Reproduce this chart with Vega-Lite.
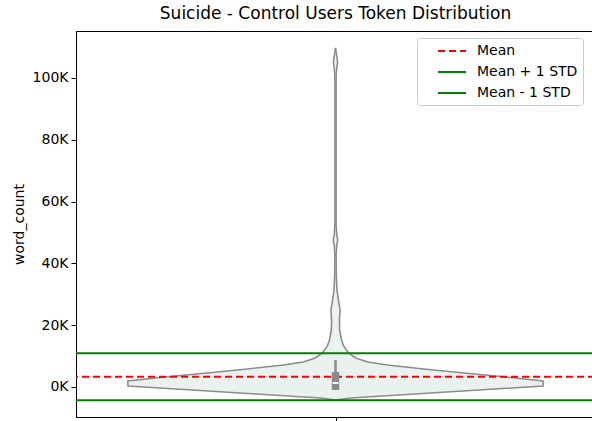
{
  "$schema": "https://vega.github.io/schema/vega-lite/v6.json",
  "autosize": "none",
  "padding": {"left": 76, "top": 31, "right": 0, "bottom": 4},
  "width": 519,
  "height": 386,
  "config": {
    "font": "DejaVu Sans",
    "view": {"stroke": "black", "strokeWidth": 1},
    "axis": {"labelFont": "DejaVu Sans", "titleFont": "DejaVu Sans", "labelFontSize": 14, "titleFontSize": 14, "titleFontWeight": "normal", "labelColor": "black", "titleColor": "black", "domainColor": "black", "tickColor": "black", "grid": false}
  },
  "title": {"text": "Suicide - Control Users Token Distribution", "fontSize": 17, "fontWeight": "normal", "font": "DejaVu Sans", "color": "black", "anchor": "middle", "offset": 8},
  "datasets": {
    "violin": [
      {"word_count": -4207, "density": 0},
      {"word_count": -4045, "density": 0.019},
      {"word_count": -3560, "density": 0.072},
      {"word_count": -3236, "density": 0.15},
      {"word_count": -2265, "density": 0.382},
      {"word_count": -971, "density": 0.691},
      {"word_count": 324, "density": 1.0},
      {"word_count": 1942, "density": 1.0},
      {"word_count": 3236, "density": 0.821},
      {"word_count": 4531, "density": 0.618},
      {"word_count": 5825, "density": 0.425},
      {"word_count": 7120, "density": 0.251},
      {"word_count": 8091, "density": 0.155},
      {"word_count": 9385, "density": 0.097},
      {"word_count": 11003, "density": 0.063},
      {"word_count": 13270, "density": 0.039},
      {"word_count": 15210, "density": 0.029},
      {"word_count": 18450, "density": 0.02},
      {"word_count": 21680, "density": 0.019},
      {"word_count": 24920, "density": 0.022},
      {"word_count": 28160, "density": 0.014},
      {"word_count": 31390, "density": 0.007},
      {"word_count": 36250, "density": 0.004},
      {"word_count": 42720, "density": 0.003},
      {"word_count": 45950, "density": 0.006},
      {"word_count": 47570, "density": 0.011},
      {"word_count": 49190, "density": 0.006},
      {"word_count": 52430, "density": 0.003},
      {"word_count": 60520, "density": 0.003},
      {"word_count": 76700, "density": 0.003},
      {"word_count": 92880, "density": 0.003},
      {"word_count": 100970, "density": 0.003},
      {"word_count": 103200, "density": 0.006},
      {"word_count": 105180, "density": 0.01},
      {"word_count": 107100, "density": 0.006},
      {"word_count": 108410, "density": 0.003},
      {"word_count": 109710, "density": 0}
    ],
    "stats": [
      {"label": "Mean", "value": 3330},
      {"label": "Mean + 1 STD", "value": 10930},
      {"label": "Mean - 1 STD", "value": -4270}
    ],
    "box": [
      {"whisker_lo": -1000, "whisker_hi": 8700, "q1": -950, "q3": 4850, "median": 1300}
    ]
  },
  "layer": [
    {
      "data": {"name": "violin"},
      "mark": {"type": "area", "orient": "horizontal", "color": "#eaf2ef"},
      "encoding": {
        "y": {"field": "word_count", "type": "quantitative", "scale": {"domain": [-9710, 115210], "nice": false, "zero": false},
          "axis": {"values": [0, 20000, 40000, 60000, 80000, 100000], "labelExpr": "datum.value / 1000 + 'K'", "title": "word_count", "tickSize": 5, "labelPadding": 3, "titlePadding": 6}},
        "x": {"field": "density", "type": "quantitative", "scale": {"domain": [-1.25, 1.25], "nice": false, "zero": false},
          "axis": {"values": [0], "labels": false, "title": null, "tickSize": 5}}
      }
    },
    {
      "data": {"name": "violin"},
      "mark": {"type": "area", "orient": "horizontal", "color": "#eaf2ef"},
      "encoding": {
        "y": {"field": "word_count", "type": "quantitative"},
        "x": {"field": "density", "type": "quantitative", "scale": {"domain": [-1.25, 1.25], "nice": false, "zero": false, "reverse": true}, "axis": null}
      }
    },
    {
      "data": {"name": "violin"},
      "mark": {"type": "line", "color": "#8c8c8c", "strokeWidth": 1.6},
      "encoding": {
        "y": {"field": "word_count", "type": "quantitative"},
        "x": {"field": "density", "type": "quantitative", "scale": {"domain": [-1.25, 1.25], "nice": false, "zero": false}, "axis": null},
        "order": {"field": "word_count", "type": "quantitative"}
      }
    },
    {
      "data": {"name": "violin"},
      "mark": {"type": "line", "color": "#8c8c8c", "strokeWidth": 1.6},
      "encoding": {
        "y": {"field": "word_count", "type": "quantitative"},
        "x": {"field": "density", "type": "quantitative", "scale": {"domain": [-1.25, 1.25], "nice": false, "zero": false, "reverse": true}, "axis": null},
        "order": {"field": "word_count", "type": "quantitative"}
      }
    },
    {
      "data": {"name": "stats"},
      "mark": {"type": "rule", "strokeWidth": 2},
      "encoding": {
        "y": {"field": "value", "type": "quantitative"},
        "color": {"field": "label", "type": "nominal", "scale": {"domain": ["Mean", "Mean + 1 STD", "Mean - 1 STD"], "range": ["#ff0000", "#008000", "#008000"]},
          "legend": {"title": null, "orient": "none", "legendX": 341, "legendY": 7, "fillColor": "white", "strokeColor": "#cccccc", "cornerRadius": 3, "padding": 5, "symbolType": "M-2,0L2,0", "symbolSize": 196, "symbolStrokeWidth": 2, "symbolOffset": 22, "labelFont": "DejaVu Sans", "labelFontSize": 14, "labelColor": "black", "labelOffset": 17, "rowPadding": 6}},
        "strokeDash": {"field": "label", "type": "nominal", "scale": {"domain": ["Mean", "Mean + 1 STD", "Mean - 1 STD"], "range": [[7, 4], [1, 0], [1, 0]]},
          "legend": {"title": null, "orient": "none", "legendX": 341, "legendY": 7, "fillColor": "white", "strokeColor": "#cccccc", "cornerRadius": 3, "padding": 5, "symbolType": "M-2,0L2,0", "symbolSize": 196, "symbolStrokeWidth": 2, "symbolOffset": 22, "labelFont": "DejaVu Sans", "labelFontSize": 14, "labelColor": "black", "labelOffset": 17, "rowPadding": 6}}
      }
    },
    {
      "data": {"name": "box"},
      "mark": {"type": "rule", "color": "#8a8a8a", "strokeWidth": 2.5},
      "encoding": {
        "x": {"datum": 0, "type": "quantitative", "scale": {"domain": [-1.25, 1.25], "nice": false, "zero": false}, "axis": null},
        "y": {"field": "whisker_lo", "type": "quantitative"},
        "y2": {"field": "whisker_hi"}
      }
    },
    {
      "data": {"name": "box"},
      "mark": {"type": "rule", "color": "#8a8a8a", "strokeWidth": 7.5, "strokeCap": "butt"},
      "encoding": {
        "x": {"datum": 0, "type": "quantitative", "scale": {"domain": [-1.25, 1.25], "nice": false, "zero": false}, "axis": null},
        "y": {"field": "q1", "type": "quantitative"},
        "y2": {"field": "q3"}
      }
    },
    {
      "data": {"name": "box"},
      "mark": {"type": "point", "shape": "M-1,-0.33L1,-0.33L1,0.33L-1,0.33Z", "size": 36, "filled": true, "color": "white", "opacity": 1},
      "encoding": {
        "x": {"datum": 0, "type": "quantitative", "scale": {"domain": [-1.25, 1.25], "nice": false, "zero": false}, "axis": null},
        "y": {"field": "median", "type": "quantitative"}
      }
    }
  ],
  "resolve": {"scale": {"x": "independent"}}
}
